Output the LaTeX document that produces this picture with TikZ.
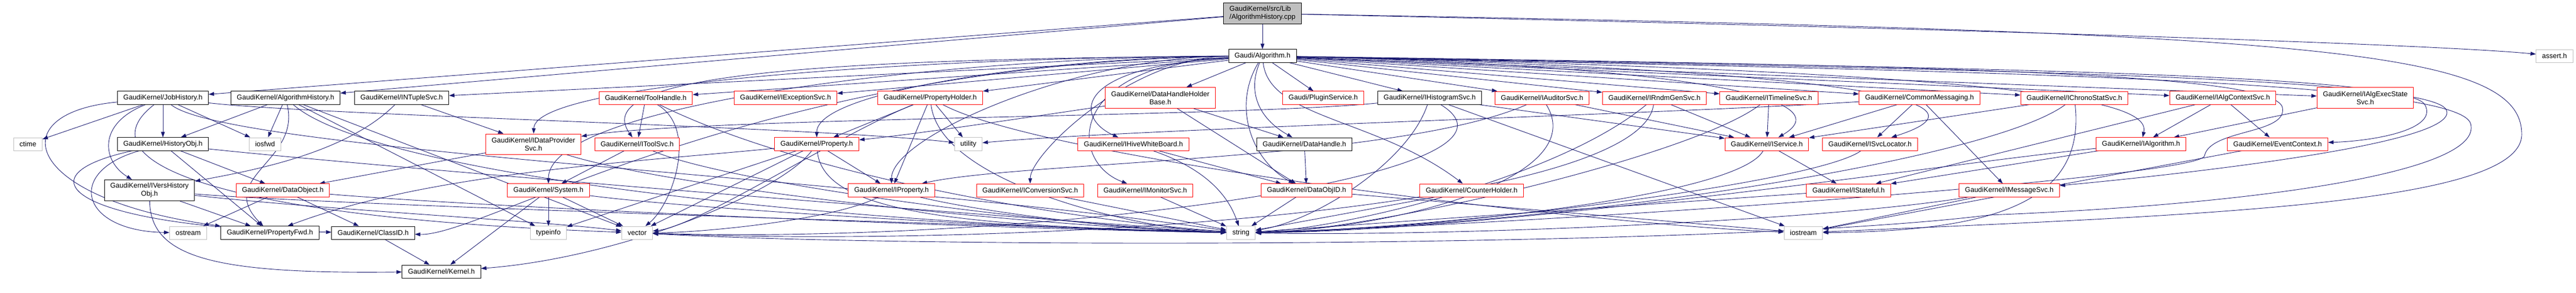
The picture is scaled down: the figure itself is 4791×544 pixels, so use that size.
\documentclass[tikz,border=0pt]{standalone}
\usepackage{fontspec}
\setmainfont{Liberation Sans}
\usetikzlibrary{arrows.meta,backgrounds}
\definecolor{navyline}{RGB}{25,25,112}
\definecolor{sysgray}{RGB}{191,191,191}
\tikzset{
	hdr/.style={draw=black, line width=1pt, fill=white, inner xsep=11pt, inner ysep=6pt, minimum height=24pt, align=center, font=\fontsize{13}{15}\selectfont},
	hdrred/.style={hdr, draw=red},
	sysh/.style={hdr, draw=sysgray},
	srcfile/.style={hdr, fill=sysgray, align=left},
	dep/.style={draw=navyline, line width=0.9pt, -{Triangle[length=10pt,width=7pt]}},
}

\begin{document}
\begin{tikzpicture}[x=1pt,y=1pt]
		%%%%% START %%%%%
		\useasboundingbox (0,0) rectangle (4791,-544);
		
		\node[srcfile, minimum height=38pt] (cpp) at (2348,-25) {GaudiKernel/src/Lib\\/AlgorithmHistory.cpp};
		\node[hdr] (alg) at (2348,-104) {Gaudi/Algorithm.h};
		\node[sysh] (assert) at (4751,-104) {assert.h};
		
		\node[hdr] (jobh) at (303,-182) {GaudiKernel/JobHistory.h};
		\node[hdr] (algh) at (531,-182) {GaudiKernel/AlgorithmHistory.h};
		\node[hdr] (ntup) at (747,-182) {GaudiKernel/INTupleSvc.h};
		\node[hdrred] (toolh) at (1201,-182) {GaudiKernel/ToolHandle.h};
		\node[hdrred] (excs) at (1461,-182) {GaudiKernel/IExceptionSvc.h};
		\node[hdrred] (propholder) at (1730,-182) {GaudiKernel/PropertyHolder.h};
		\node[hdrred, minimum height=39pt] (dhhb) at (2158,-182) {GaudiKernel/DataHandleHolder\\Base.h};
		\node[hdrred] (plugin) at (2461,-182) {Gaudi/PluginService.h};
		\node[hdr] (histsvc) at (2659,-182) {GaudiKernel/IHistogramSvc.h};
		\node[hdrred] (audsvc) at (2868,-182) {GaudiKernel/IAuditorSvc.h};
		\node[hdrred] (rndm) at (3077,-182) {GaudiKernel/IRndmGenSvc.h};
		\node[hdrred] (timeline) at (3290,-182) {GaudiKernel/ITimelineSvc.h};
		\node[hdrred] (commsg) at (3570,-182) {GaudiKernel/CommonMessaging.h};
		\node[hdrred] (chrono) at (3858,-182) {GaudiKernel/IChronoStatSvc.h};
		\node[hdrred] (algctx) at (4134,-182) {GaudiKernel/IAlgContextSvc.h};
		\node[hdrred, minimum height=39pt] (execst) at (4399,-182) {GaudiKernel/IAlgExecState\\Svc.h};
		
		\node[sysh] (ctime) at (52,-268) {ctime};
		\node[hdr] (histobj) at (303,-268) {GaudiKernel/HistoryObj.h};
		\node[sysh] (iosfwd) at (493,-268) {iosfwd};
		\node[hdrred, minimum height=38pt] (idps) at (992,-268) {GaudiKernel/IDataProvider\\Svc.h};
		\node[hdrred] (itoolsvc) at (1185,-268) {GaudiKernel/IToolSvc.h};
		\node[hdrred] (property) at (1519,-268) {GaudiKernel/Property.h};
		\node[sysh] (utility) at (1801,-268) {utility};
		\node[hdrred] (hivewb) at (2108,-268) {GaudiKernel/IHiveWhiteBoard.h};
		\node[hdr] (datahandle) at (2426,-268) {GaudiKernel/DataHandle.h};
		\node[hdrred] (iservice) at (3286,-268) {GaudiKernel/IService.h};
		\node[hdrred] (isvcloc) at (3478,-268) {GaudiKernel/ISvcLocator.h};
		\node[hdrred] (ialgorithm) at (3982,-268) {GaudiKernel/IAlgorithm.h};
		\node[hdrred] (eventctx) at (4236,-268) {GaudiKernel/EventContext.h};
		
		\node[hdr, minimum height=38pt] (iversh) at (278,-354) {GaudiKernel/IVersHistory\\Obj.h};
		\node[hdrred] (dataobj) at (526,-354) {GaudiKernel/DataObject.h};
		\node[hdrred] (system) at (1020,-354) {GaudiKernel/System.h};
		\node[hdrred] (iprop) at (1658,-354) {GaudiKernel/IProperty.h};
		\node[hdrred] (iconv) at (1916,-354) {GaudiKernel/IConversionSvc.h};
		\node[hdrred] (imon) at (2130,-354) {GaudiKernel/IMonitorSvc.h};
		\node[hdrred] (dataobjid) at (2430,-354) {GaudiKernel/DataObjID.h};
		\node[hdrred] (counter) at (2737,-354) {GaudiKernel/CounterHolder.h};
		\node[hdrred] (istateful) at (3438,-354) {GaudiKernel/IStateful.h};
		\node[hdrred] (imsgsvc) at (3737,-354) {GaudiKernel/IMessageSvc.h};
		
		\node[sysh] (ostream) at (350,-433) {ostream};
		\node[hdr] (propfwd) at (502,-433) {GaudiKernel/PropertyFwd.h};
		\node[hdr] (classid) at (694,-433) {GaudiKernel/ClassID.h};
		\node[sysh] (typeinfo) at (1020,-433) {typeinfo};
		\node[sysh] (vector) at (1185,-433) {vector};
		\node[sysh] (string) at (2308,-433) {string};
		\node[sysh] (iostream) at (3354,-433) {iostream};
		
		\node[hdr] (kernel) at (821,-505) {GaudiKernel/Kernel.h};
		
		\begin{scope}[on background layer]
		% source file
		\draw[dep] (cpp) -- (alg);
		\draw[dep] (cpp) -- (jobh);
		\draw[dep] (cpp) -- (algh);
		\draw[dep] (cpp) .. controls (3500,-50) and (4500,-80) .. (assert);
		\draw[dep] (cpp) .. controls (4300,-60) and (4690,-90) .. (4690,-250) .. controls (4690,-380) and (4100,-400) .. (iostream);
		
		% Gaudi/Algorithm.h
		\draw[dep] (alg) -- (ntup);
		\draw[dep] (alg) -- (toolh);
		\draw[dep] (alg) -- (excs);
		\draw[dep] (alg) -- (propholder);
		\draw[dep] (alg) -- (dhhb);
		\draw[dep] (alg) -- (plugin);
		\draw[dep] (alg) -- (histsvc);
		\draw[dep] (alg) -- (audsvc);
		\draw[dep] (alg) -- (rndm);
		\draw[dep] (alg) -- (timeline);
		\draw[dep] (alg) -- (commsg);
		\draw[dep] (alg) -- (chrono);
		\draw[dep] (alg) -- (algctx);
		\draw[dep] (alg) -- (execst);
		\draw[dep] (alg) .. controls (1780,-106) and (995,-150) .. (idps);
		\draw[dep] (alg) .. controls (1500,-110) and (1095,-140) .. (itoolsvc);
		\draw[dep] (alg) .. controls (1977,-106) and (1519,-166) .. (property);
		\draw[dep] (alg) .. controls (1782,-106) and (1020,-190) .. (system);
		\draw[dep] (alg) .. controls (1996,-106) and (1658,-255) .. (iprop);
		\draw[dep] (alg) .. controls (2102,-106) and (1916,-287) .. (iconv);
		\draw[dep] (alg) .. controls (1985,-120) and (1985,-300) .. (imon);
		\draw[dep] (alg) .. controls (1990,-125) and (2000,-220) .. (hivewb);
		\draw[dep] (alg) .. controls (1400,-118) and (900,-440) .. (classid);
		\draw[dep] (alg) .. controls (2320,-170) and (2340,-220) .. (datahandle);
		\draw[dep] (alg) .. controls (2290,-200) and (2330,-300) .. (dataobjid);
		\draw[dep] (alg) .. controls (2360,-220) and (2560,-220) .. (counter);
		\draw[dep] (alg) .. controls (3200,-125) and (3420,-190) .. (iservice);
		\draw[dep] (alg) .. controls (3450,-130) and (3725,-190) .. (isvcloc);
		\draw[dep] (alg) .. controls (3800,-135) and (4000,-190) .. (ialgorithm);
		\draw[dep] (alg) .. controls (3600,-125) and (4480,-135) .. (4510,-195) .. controls (4535,-240) and (4420,-262) .. (eventctx);
		\draw[dep] (alg) .. controls (3600,-128) and (4525,-140) .. (4550,-205) .. controls (4575,-265) and (4100,-320) .. (imsgsvc);
		\draw[dep] (alg) .. controls (3600,-131) and (4570,-145) .. (4595,-230) .. controls (4620,-320) and (4200,-380) .. (3700,-400) .. controls (3200,-462) and (1700,-462) .. (vector);
		\draw[dep] (alg) .. controls (3600,-122) and (4230,-135) .. (4245,-200) .. controls (4255,-250) and (4110,-240) .. (4100,-290) .. controls (4090,-330) and (2900,-415) .. (string);
		
		% JobHistory.h
		\draw[dep] (jobh) -- (histobj);
		\draw[dep] (jobh) -- (ctime);
		\draw[dep] (jobh) -- (iosfwd);
		\draw[dep] (jobh) .. controls (180,-230) and (190,-300) .. (iversh);
		\draw[dep] (jobh) .. controls (0,-210) and (40,-370) .. (propfwd);
		\draw[dep] (jobh) .. controls (420,-280) and (1600,-330) .. (string);
		\draw[dep] (jobh) .. controls (600,-215) and (1500,-235) .. (utility);
		\draw[dep] (jobh) .. controls (150,-300) and (400,-405) .. (vector);
		
		% AlgorithmHistory.h
		\draw[dep] (algh) -- (histobj);
		\draw[dep] (algh) -- (iosfwd);
		\draw[dep] (algh) .. controls (560,-300) and (400,-330) .. (propfwd);
		\draw[dep] (algh) -- (typeinfo);
		\draw[dep] (algh) -- (vector);
		\draw[dep] (algh) .. controls (700,-330) and (1600,-420) .. (string);
		
		% INTupleSvc.h, ToolHandle.h, PropertyHolder.h
		\draw[dep] (ntup) -- (idps);
		\draw[dep] (ntup) .. controls (640,-290) and (450,-320) .. (iversh);
		\draw[dep] (toolh) -- (itoolsvc);
		\draw[dep] (toolh) .. controls (1300,-240) and (1250,-380) .. (vector);
		\draw[dep] (toolh) .. controls (1500,-330) and (2000,-410) .. (string);
		\draw[dep] (propholder) -- (property);
		\draw[dep] (propholder) -- (iprop);
		\draw[dep] (propholder) -- (utility);
		\draw[dep] (propholder) .. controls (1560,-250) and (1300,-420) .. (vector);
		\draw[dep] (propholder) .. controls (1750,-350) and (2150,-430) .. (string);
		\draw[dep] (propholder) .. controls (1950,-300) and (3000,-420) .. (iostream);
		
		% DataHandleHolderBase.h and the services
		\draw[dep] (dhhb) -- (datahandle);
		\draw[dep] (dhhb) -- (dataobjid);
		\draw[dep] (dhhb) .. controls (1900,-220) and (1700,-250) .. (property);
		\draw[dep] (histsvc) .. controls (2300,-218) and (1300,-218) .. (idps);
		\draw[dep] (histsvc) -- (iservice);
		\draw[dep] (histsvc) .. controls (2620,-300) and (2450,-410) .. (string);
		\draw[dep] (histsvc) .. controls (2900,-330) and (1900,-455) .. (vector);
		\draw[dep] (histsvc) -- (iostream);
		\draw[dep] (audsvc) -- (iservice);
		\draw[dep] (audsvc) .. controls (2960,-330) and (2600,-425) .. (string);
		\draw[dep] (audsvc) .. controls (2600,-300) and (1900,-300) .. (iprop);
		\draw[dep] (rndm) -- (iservice);
		\draw[dep] (rndm) .. controls (2900,-330) and (2500,-425) .. (string);
		\draw[dep] (rndm) .. controls (3050,-390) and (1900,-462) .. (vector);
		\draw[dep] (timeline) -- (iservice);
		\draw[dep] (timeline) .. controls (3150,-290) and (2550,-430) .. (string);
		\draw[dep] (commsg) -- (iservice);
		\draw[dep] (commsg) -- (isvcloc);
		\draw[dep] (commsg) -- (imsgsvc);
		\draw[dep] (commsg) .. controls (3100,-212) and (2100,-240) .. (utility);
		\draw[dep] (chrono) -- (iservice);
		\draw[dep] (chrono) .. controls (3880,-380) and (3700,-430) .. (iostream);
		\draw[dep] (chrono) .. controls (3700,-300) and (2900,-420) .. (string);
		\draw[dep] (algctx) -- (ialgorithm);
		\draw[dep] (algctx) -- (eventctx);
		\draw[dep] (algctx) -- (istateful);
		\draw[dep] (execst) -- (ialgorithm);
		
		% second row
		\draw[dep] (idps) -- (dataobj);
		\draw[dep] (idps) .. controls (1250,-350) and (1900,-420) .. (string);
		\draw[dep] (itoolsvc) -- (system);
		\draw[dep] (itoolsvc) .. controls (1350,-340) and (1950,-420) .. (string);
		\draw[dep] (property) .. controls (1200,-300) and (800,-320) .. (propfwd);
		\draw[dep] (property) -- (typeinfo);
		\draw[dep] (property) .. controls (1450,-360) and (1150,-480) .. (kernel);
		\draw[dep] (property) -- (iprop);
		\draw[dep] (property) -- (vector);
		\draw[dep] (property) .. controls (1530,-400) and (1800,-420) .. (string);
		\draw[dep] (hivewb) -- (dataobjid);
		\draw[dep] (hivewb) .. controls (2260,-320) and (2290,-380) .. (string);
		\draw[dep] (datahandle) -- (dataobjid);
		\draw[dep] (iservice) -- (istateful);
		\draw[dep] (iservice) .. controls (3230,-370) and (2600,-430) .. (string);
		\draw[dep] (isvcloc) .. controls (3380,-340) and (2700,-425) .. (string);
		\draw[dep] (ialgorithm) -- (istateful);
		\draw[dep] (ialgorithm) .. controls (3650,-300) and (2800,-430) .. (string);
		\draw[dep] (eventctx) -- (iostream);
		\draw[dep] (histobj) .. controls (120,-320) and (150,-430) .. (ostream);
		\draw[dep] (histobj) -- (propfwd);
		\draw[dep] (histobj) -- (dataobj);
		\draw[dep] (histobj) .. controls (700,-310) and (1800,-400) .. (string);
		\draw[dep] (histobj) .. controls (20,-330) and (150,-425) .. (classid);
		
		% third row
		\draw[dep] (iversh) .. controls (280,-480) and (400,-510) .. (kernel);
		\draw[dep] (iversh) -- (propfwd);
		\draw[dep] (iversh) .. controls (600,-380) and (1700,-415) .. (string);
		\draw[dep] (iversh) .. controls (600,-390) and (1000,-410) .. (vector);
		\draw[dep] (dataobj) -- (ostream);
		\draw[dep] (dataobj) -- (classid);
		\draw[dep] (dataobj) .. controls (900,-385) and (1800,-425) .. (string);
		\draw[dep] (system) -- (kernel);
		\draw[dep] (system) -- (typeinfo);
		\draw[dep] (system) -- (vector);
		\draw[dep] (system) .. controls (1300,-390) and (1950,-428) .. (string);
		\draw[dep] (iprop) .. controls (1850,-400) and (2150,-432) .. (string);
		\draw[dep] (iprop) .. controls (1550,-410) and (1300,-433) .. (vector);
		\draw[dep] (iconv) -- (string);
		\draw[dep] (imon) -- (string);
		\draw[dep] (dataobjid) -- (string);
		\draw[dep] (dataobjid) -- (iostream);
		\draw[dep] (counter) -- (string);
		\draw[dep] (istateful) -- (string);
		\draw[dep] (imsgsvc) -- (iostream);
		\draw[dep] (imsgsvc) .. controls (3400,-410) and (2700,-440) .. (string);
		
		% last row
		\draw[dep] (classid) -- (kernel);
		\end{scope}
		%%%%% END %%%%%
\end{tikzpicture}
\end{document}
